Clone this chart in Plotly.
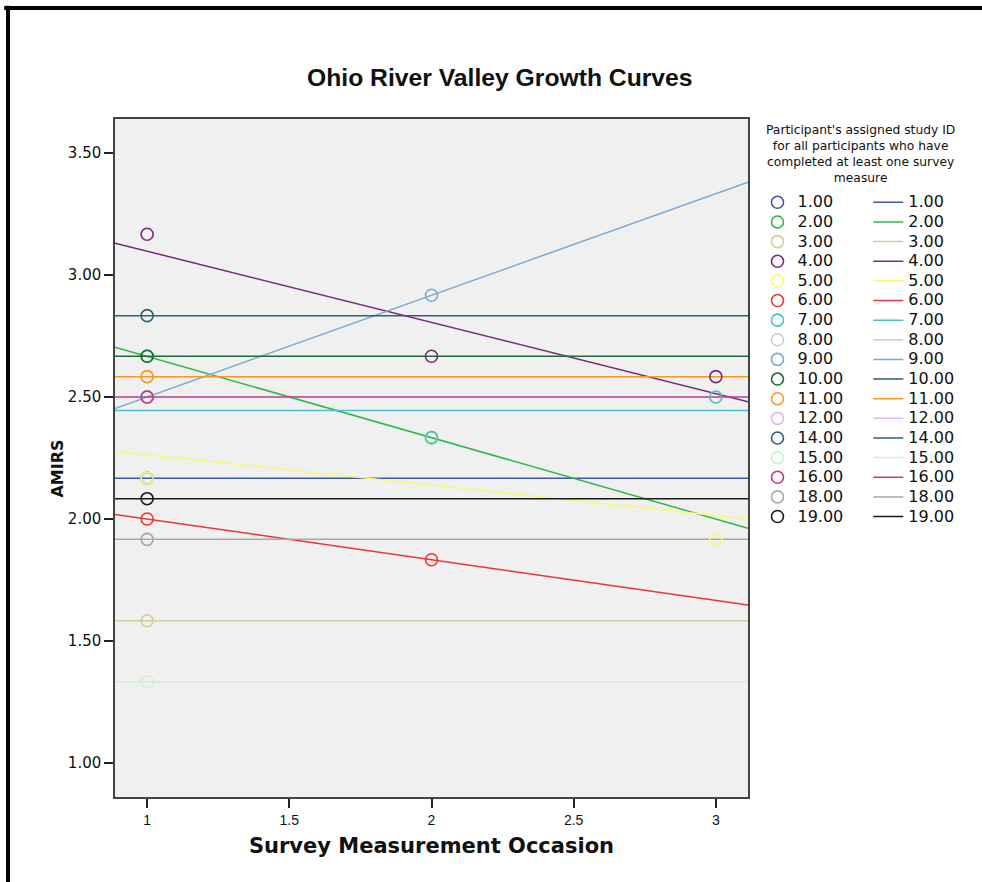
import numpy as np
import plotly.graph_objects as go

# ---- data ----
ids = ["1.00", "2.00", "3.00", "4.00", "5.00", "6.00", "7.00", "8.00", "9.00",
       "10.00", "11.00", "12.00", "14.00", "15.00", "16.00", "18.00", "19.00"]
colors = ["#3E58AC", "#2EB848", "#D3CE97", "#7C287D", "#FBF873", "#EF3338",
          "#48C2C5", "#CCCCCC", "#7AAAD5", "#1E6B3A", "#F8981D", "#DDB9F6",
          "#2A6278", "#C8F5C8", "#C0388A", "#A8A8A8", "#1A1A1A"]

participant = ["1.00",
               "2.00", "2.00",
               "3.00",
               "4.00", "4.00", "4.00",
               "5.00", "5.00", "5.00",
               "6.00", "6.00",
               "7.00", "7.00", "7.00",
               "9.00", "9.00",
               "10.00", "11.00", "14.00", "15.00", "16.00", "18.00", "19.00"]
occasion = [1,
            1, 2,
            1,
            1, 2, 3,
            1, 2, 3,
            1, 2,
            1, 2, 3,
            1, 2,
            1, 1, 1, 1, 1, 1, 1]
amirs = [2.1667,
         2.6667, 2.3333,
         1.5833,
         3.1667, 2.6667, 2.5833,
         2.1667, 2.3333, 1.9167,
         2.0000, 1.8333,
         2.5000, 2.3333, 2.5000,
         2.5000, 2.9167,
         2.6667, 2.5833, 2.8333, 1.3333, 2.5000, 1.9167, 2.0833]

x_range = [0.887, 3.113]
y_range = [0.861, 3.639]

part = np.array(participant)
occ = np.array(occasion, dtype=float)
val = np.array(amirs, dtype=float)

fig = go.Figure()

font_main = "DejaVu Sans"
LEG_TXT = "<span style='font-size:16px'>{}</span>"

line_traces = []
marker_traces = []
for pid, col in zip(ids, colors):
    m = part == pid
    xs, ys = occ[m], val[m]
    if len(xs) >= 2:
        slope, intercept = np.polyfit(xs, ys, 1)
        xl = np.array(x_range)
        yl = intercept + slope * xl
    elif len(xs) == 1:
        xl = np.array(x_range)
        yl = np.array([ys[0], ys[0]])
    else:
        xl = np.array([None])
        yl = np.array([None])
    line_traces.append(go.Scatter(
        x=list(xl), y=list(yl), mode="lines", name=LEG_TXT.format(pid),
        line=dict(color=col, width=1.5), legend="legend2",
        hoverinfo="skip"))
    marker_traces.append(go.Scatter(
        x=list(xs) if len(xs) else [None], y=list(ys) if len(ys) else [None],
        mode="markers", name=LEG_TXT.format(pid), legend="legend",
        marker=dict(symbol="circle-open", size=12, color=col,
                    line=dict(width=1.6, color=col))))

for t in line_traces:
    fig.add_trace(t)
for t in marker_traces:
    fig.add_trace(t)

fig.update_layout(
    width=982, height=882,
    margin=dict(l=115, r=234, t=119, b=85),
    paper_bgcolor="white",
    plot_bgcolor="#F0F0F0",
    font=dict(family=font_main, color="#111"),
    showlegend=True,
    legend=dict(x=1.015, y=0.899, xanchor="left", yanchor="top",
                font=dict(family=font_main, size=12.8, color="#111"),
                tracegroupgap=0, itemwidth=30, bgcolor="rgba(0,0,0,0)"),
    legend2=dict(x=1.19, y=0.899, xanchor="left", yanchor="top",
                 font=dict(family=font_main, size=12.8, color="#111"),
                 tracegroupgap=0, itemwidth=30, bgcolor="rgba(0,0,0,0)"),
    xaxis=dict(range=x_range, tick0=1, dtick=0.5, showgrid=False, zeroline=False,
               ticks="outside", ticklen=9, tickwidth=1.5, tickcolor="#222",
               showline=True, mirror=True, linecolor="#444", linewidth=1.5,
               tickfont=dict(family="Liberation Sans", size=14, color="#111"),
               title=dict(text="<b>Survey Measurement Occasion</b>",
                          font=dict(family=font_main, size=21, color="#111"),
                          standoff=12)),
    yaxis=dict(range=y_range, tick0=1, dtick=0.5, tickformat=".2f",
               showgrid=False, zeroline=False,
               ticks="outside", ticklen=9, tickwidth=1.5, tickcolor="#222",
               showline=True, mirror=True, linecolor="#444", linewidth=1.5,
               tickfont=dict(family=font_main, size=15, color="#111")),
    annotations=[
        dict(text="<b>Ohio River Valley Growth Curves</b>", xref="paper", yref="paper",
             x=0.608, y=1.0, yshift=42, xanchor="center", yanchor="middle",
             showarrow=False,
             font=dict(family="Liberation Sans", size=24.7, color="#111")),
        dict(text="<b>AMIRS</b>", xref="paper", yref="paper",
             x=-0.091, y=0.485, xanchor="center", yanchor="middle",
             textangle=-90, showarrow=False,
             font=dict(family=font_main, size=16, color="#111")),
        dict(text="Participant's assigned study ID<br>for all participants who have<br>"
                  "completed at least one survey<br>measure",
             xref="paper", yref="paper", x=1.177, y=0.948,
             xanchor="center", yanchor="middle", align="center", showarrow=False,
             font=dict(family=font_main, size=12.3, color="#111")),
    ],
    shapes=[
        dict(type="line", xref="paper", yref="paper", x0=-0.175, x1=1.6,
             y0=1.1637, y1=1.1637, line=dict(color="black", width=4)),
        dict(type="line", xref="paper", yref="paper", x0=-0.169, x1=-0.169,
             y0=1.167, y1=-0.2, line=dict(color="black", width=4)),
    ],
)

fig.write_html("out.html", config={"displayModeBar": False},
               post_script="document.body.style.margin='0px';document.body.style.padding='0px';")
